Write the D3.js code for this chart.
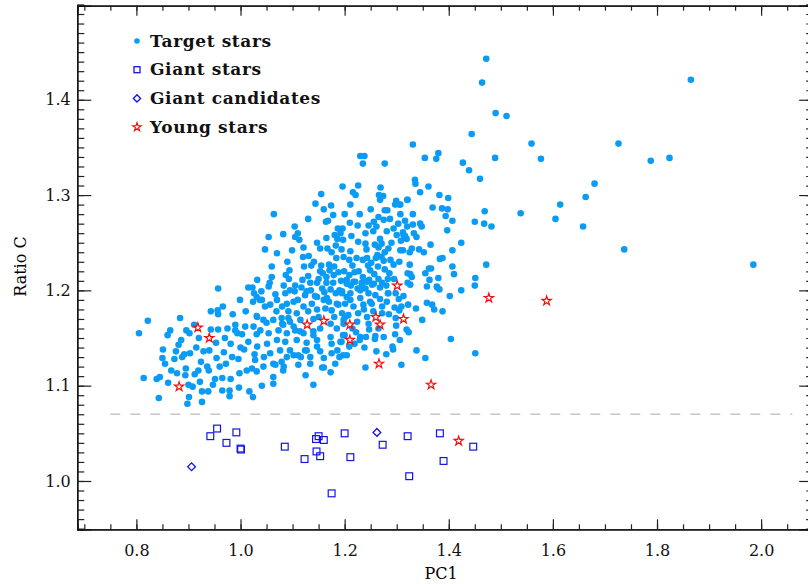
<!DOCTYPE html>
<html>
<head>
<meta charset="utf-8">
<script src="https://cdn.jsdelivr.net/npm/d3@7"></script>
<style>
  body { margin: 0; background: #fff; }
  svg { display: block; }
  .tick text { font-family: "DejaVu Serif", serif; font-size: 16px; fill: #111; }
  .axis path { stroke: #111; stroke-width: 1.3; }
  .axis line { stroke: #222; stroke-width: 1.2; }
</style>
</head>
<body>
<div id="chart"></div>
<script>
// --- data: [PC1, Ratio C]
var targetStars = [
  [1.472,1.443],[1.464,1.418],[1.865,1.421],[1.490,1.386],[1.511,1.383],[1.444,1.364],[1.331,1.353],[1.559,1.354],
  [1.726,1.354],[1.354,1.339],[1.380,1.344],[1.376,1.338],[1.489,1.339],[1.577,1.338],[1.788,1.336],[1.824,1.339],
  [1.427,1.334],[1.439,1.326],[1.460,1.317],[1.335,1.316],[1.336,1.312],[1.361,1.309],[1.345,1.303],[1.680,1.312],
  [1.663,1.298],[1.321,1.295],[1.307,1.290],[1.382,1.300],[1.399,1.297],[1.614,1.290],[1.369,1.287],[1.387,1.286],
  [1.398,1.285],[1.469,1.283],[1.331,1.280],[1.538,1.281],[1.307,1.280],[1.394,1.278],[1.605,1.275],[1.316,1.273],
  [1.407,1.273],[1.450,1.272],[1.468,1.270],[1.482,1.267],[1.658,1.267],[1.331,1.269],[1.345,1.270],[1.348,1.267],
  [1.397,1.263],[1.312,1.261],[1.316,1.257],[1.333,1.260],[1.338,1.256],[1.319,1.254],[1.365,1.248],[1.424,1.250],
  [1.307,1.242],[1.325,1.240],[1.343,1.243],[1.352,1.240],[1.407,1.242],[1.737,1.243],[1.388,1.234],[1.472,1.227],
  [1.985,1.227],[1.325,1.227],[1.362,1.223],[1.321,1.218],[1.355,1.218],[1.407,1.225],[1.410,1.217],[1.329,1.214],
  [1.380,1.213],[1.451,1.213],[1.363,1.211],
  [1.424,1.200],[1.358,1.187],[1.372,1.180],[1.337,1.181],[1.322,1.185],[1.309,1.183],[1.296,1.182],[1.349,1.169],
  [1.298,1.171],[1.299,1.163],[1.319,1.159],[1.323,1.156],[1.297,1.154],[1.306,1.148],[1.404,1.149],[1.258,1.149],
  [1.338,1.137],[1.293,1.138],[1.261,1.136],[1.280,1.133],[1.355,1.129],[1.451,1.134],[1.309,1.122],[1.240,1.119],
  [1.197,1.132],[1.272,1.208],[1.321,1.208],[1.377,1.204],[1.382,1.201],[1.304,1.191],[1.272,1.176],[1.259,1.152],
  [1.241,1.151],[1.222,1.156],[1.200,1.153],[1.229,1.148],[1.219,1.144],[1.194,1.146],[1.292,1.141],
  [1.204,1.207],[1.220,1.209],[1.233,1.206],[1.243,1.209],[1.256,1.207],[1.195,1.197],[1.211,1.197],[1.230,1.200],
  [1.246,1.197],[1.259,1.195],[1.268,1.191],[1.284,1.197],[1.201,1.186],[1.217,1.183],[1.236,1.185],[1.252,1.186],
  [1.195,1.176],[1.207,1.174],[1.226,1.176],[1.243,1.172],[1.198,1.165],[1.224,1.167],[1.246,1.165],[1.197,1.153],
  [1.230,1.151],
  [1.230,1.341],[1.238,1.341],[1.235,1.333],[1.277,1.333],[1.269,1.308],[1.226,1.310],[1.196,1.309],[1.155,1.301],
  [1.216,1.303],[1.221,1.300],[1.266,1.300],[1.274,1.299],[1.299,1.294],[1.305,1.290],[1.320,1.295],[1.144,1.291],
  [1.174,1.289],[1.211,1.290],[1.268,1.295],[1.277,1.284],[1.282,1.284],[1.297,1.290],[1.178,1.279],[1.229,1.280],
  [1.064,1.280],[1.104,1.267],[1.164,1.272],[1.168,1.273],[1.210,1.271],[1.256,1.272],[1.261,1.267],[1.196,1.265],
  [1.187,1.265],[1.181,1.258],[1.192,1.260],[1.186,1.254],[1.197,1.253],[1.213,1.257],[1.240,1.260],[1.226,1.251],
  [1.240,1.249],[1.165,1.255],[1.147,1.250],[1.105,1.256],[1.113,1.253],[1.121,1.245],[1.099,1.242],[1.054,1.256],
  [1.047,1.243],[1.082,1.259],[1.153,1.244],[1.167,1.244],[1.183,1.247],[1.194,1.243],[1.211,1.241],[1.242,1.243],
  [1.258,1.248],[1.268,1.254],[1.265,1.245],[1.271,1.249],[1.277,1.240],[1.284,1.244],[1.308,1.252],[1.313,1.258],
  [1.329,1.244],[1.312,1.242],[1.263,1.237],[1.271,1.235],[1.260,1.234],[1.275,1.231],[1.288,1.232],[1.294,1.227],
  [1.251,1.229],[1.243,1.234],[1.235,1.232],[1.223,1.234],[1.209,1.232],[1.198,1.235],[1.184,1.234],[1.170,1.227],
  [1.155,1.226],[1.141,1.230],[1.131,1.236],[1.120,1.235],[1.136,1.226],[1.122,1.225],[1.094,1.221],[1.087,1.216],
  [1.093,1.212],[1.060,1.214],[1.032,1.211],[1.023,1.203],[1.056,1.208],[1.153,1.220],[1.158,1.218],[1.165,1.214],
  [1.171,1.221],[1.179,1.216],[1.188,1.219],[1.199,1.220],[1.209,1.216],[1.219,1.219],[1.227,1.220],[1.235,1.214],
  [1.249,1.221],[1.257,1.217],[1.264,1.225],[1.277,1.222],[1.286,1.218],[1.283,1.212],[1.265,1.212],[1.247,1.211],
  [1.233,1.208],[1.217,1.209],[1.204,1.211],[1.193,1.210],[1.178,1.208],[1.165,1.208],[1.147,1.208],[1.134,1.208],
  [1.119,1.211],[1.105,1.205],[1.083,1.205],[1.067,1.196],[1.054,1.204],[1.040,1.199],[1.026,1.197],[1.037,1.190],
  [1.086,1.197],[1.095,1.200],[1.104,1.199],[1.117,1.203],[1.124,1.195],[1.135,1.200],[1.143,1.194],[1.157,1.202],
  [1.161,1.198],[1.173,1.201],[1.183,1.197],[1.195,1.199],[1.212,1.205],[1.225,1.202],[1.240,1.202],[1.253,1.206],
  [1.268,1.203],[1.283,1.197],[1.298,1.197],[1.313,1.194],[1.326,1.217],[1.326,1.206],[1.358,1.204],[1.366,1.223],
  [1.383,1.233],[1.378,1.203],[1.450,1.205],[1.402,1.194],[1.388,1.178],[1.368,1.185],[1.305,1.179],[1.275,1.151],
  [1.247,1.159],[1.238,1.140],[1.209,1.141],[1.192,1.146],[1.186,1.137],[1.175,1.144],[1.190,1.130],[1.160,1.129],
  [1.153,1.136],[1.134,1.130],[1.116,1.130],[1.102,1.132],[1.083,1.120],[1.044,1.120],[1.067,1.122],[1.160,1.119],
  [1.024,1.188],[1.047,1.183],[1.057,1.185],[1.069,1.178],[1.080,1.183],[1.089,1.186],[1.102,1.188],[1.092,1.178],
  [1.108,1.176],[1.121,1.183],[1.137,1.186],[1.147,1.180],[1.163,1.181],[1.175,1.179],[1.188,1.185],[1.211,1.190],
  [1.237,1.180],[1.249,1.188],[1.272,1.183],[1.281,1.188],[1.115,1.169],[1.095,1.167],[1.080,1.165],[1.063,1.169],
  [1.044,1.169],[1.032,1.172],[1.025,1.162],[1.038,1.158],[1.054,1.155],[1.073,1.158],[1.089,1.155],[1.105,1.158],
  [1.121,1.155],[1.140,1.157],[1.153,1.160],[1.173,1.165],[1.185,1.160],[1.198,1.169],[1.173,1.151],[1.147,1.148],
  [1.127,1.145],[1.108,1.148],[1.086,1.146],[1.070,1.148],[1.051,1.144],[1.032,1.141],[1.057,1.134],[1.076,1.137],
  [1.095,1.137],[1.028,1.127],[1.124,1.137],[1.175,1.134],
  [1.070,1.239],[1.015,1.203],[0.957,1.202],[0.999,1.190],[1.041,1.190],[0.966,1.183],[0.943,1.178],[0.956,1.179],
  [0.957,1.175],[0.884,1.171],[0.822,1.168],[0.805,1.155],[0.865,1.158],[0.860,1.153],[0.896,1.158],[0.902,1.155],
  [0.911,1.164],[0.943,1.159],[0.957,1.159],[0.990,1.164],[1.009,1.162],[1.031,1.173],[0.990,1.158],[0.994,1.155],
  [1.003,1.154],[1.031,1.154],[0.886,1.148],[0.881,1.143],[0.851,1.138],[0.876,1.136],[0.892,1.133],[0.888,1.130],
  [0.903,1.134],[0.915,1.140],[0.929,1.136],[0.940,1.137],[0.953,1.145],[0.970,1.150],[0.981,1.144],[0.968,1.135],
  [0.954,1.129],[0.972,1.123],[0.960,1.120],[0.984,1.130],[0.996,1.128],[1.007,1.138],[1.015,1.146],[1.027,1.133],
  [0.850,1.129],[0.855,1.123],[0.873,1.128],[0.924,1.125],[0.936,1.120],[0.939,1.116],[0.919,1.116],[0.895,1.118],
  [0.867,1.116],[0.878,1.113],[0.894,1.111],[0.912,1.112],[0.951,1.107],[0.965,1.108],[0.981,1.107],[0.998,1.113],
  [1.012,1.116],[1.022,1.118],[1.031,1.115],[1.063,1.109],[1.082,1.116],[0.814,1.108],[0.839,1.107],[0.845,1.109],
  [0.861,1.103],[0.922,1.104],[0.900,1.101],[0.908,1.099],[0.926,1.094],[0.938,1.094],[0.947,1.101],[0.965,1.095],
  [0.979,1.095],[0.997,1.098],[1.017,1.094],[1.024,1.088],[0.979,1.089],[1.041,1.100],[1.063,1.102],[0.843,1.087],
  [0.901,1.088],[0.898,1.081],[0.926,1.083],[1.140,1.101],[1.157,1.119],[1.173,1.114],[1.125,1.111],[1.111,1.122],
  [1.031,1.193],[1.130,1.178],[1.092,1.171],[1.079,1.171],[1.050,1.166],[1.082,1.164],[1.102,1.162],[1.114,1.157],
  [1.140,1.153],[1.147,1.141],[1.127,1.137],[1.111,1.132],[1.089,1.130],[1.079,1.125],[1.063,1.123],[1.134,1.123],
  [1.182,1.123],[1.204,1.132],[1.201,1.172],[1.166,1.192],[1.147,1.193],[1.127,1.199],[1.204,1.193],[1.185,1.186],
  // extra points in the packed core
  [1.265,1.277],[1.275,1.274],[1.287,1.275],[1.303,1.270],[1.294,1.265],[1.246,1.268],[1.281,1.262],[1.300,1.258],
  [1.320,1.267],[1.180,1.225],[1.215,1.226],[1.245,1.226],[1.150,1.212],[1.190,1.200],[1.230,1.192],[1.170,1.188],
  [1.255,1.178],[1.215,1.160],[1.180,1.172],[1.160,1.190],[1.140,1.170],[1.265,1.160],[1.285,1.175],[1.280,1.205],
  [1.295,1.212],[1.305,1.230],[1.290,1.250],[1.255,1.262],[1.225,1.268],[1.200,1.280],[1.250,1.285],[1.175,1.240],
  [1.130,1.215],[1.110,1.190],[1.150,1.172],[1.070,1.190],[1.010,1.178],[0.985,1.175],[0.975,1.160],[0.920,1.150],
  [1.000,1.140],[1.045,1.130],[1.110,1.260],[1.130,1.275],[1.160,1.285],[1.090,1.230],[1.060,1.225]
];

var giantStars = [
  [0.955,1.055],[0.942,1.047],[0.992,1.051],[0.973,1.040],[1.000,1.034],[1.001,1.033],[1.085,1.036],[1.123,1.023],
  [1.150,1.047],[1.145,1.044],[1.160,1.043],[1.146,1.031],[1.153,1.026],[1.175,0.987],[1.200,1.050],[1.211,1.025],
  [1.273,1.038],[1.321,1.047],[1.324,1.005],[1.383,1.050],[1.390,1.021],[1.447,1.036]
];

var giantCandidates = [[0.906,1.015],[1.262,1.051]];

var youngStars = [
  [0.882,1.099],[0.918,1.161],[0.940,1.150],[1.128,1.164],[1.160,1.168],[1.210,1.164],[1.210,1.148],[1.260,1.172],
  [1.268,1.164],[1.301,1.205],[1.313,1.170],[1.266,1.123],[1.366,1.101],[1.477,1.192],[1.588,1.189],[1.419,1.042]
];

var xTicks = [0.8, 1.0, 1.2, 1.4, 1.6, 1.8, 2.0];
var yTicks = [1.0, 1.1, 1.2, 1.3, 1.4];
var cutLevel = 1.07;   // dashed separation line
var legendLabels = ["Target stars", "Giant stars", "Giant candidates", "Young stars"];

// --- layout
var width = 808, height = 584;
var plotL = 77.3, plotR = 813.2, plotT = 5.7, plotB = 529.3;
var blue = "#0a9cf5", darkBlue = "#1414e6", red = "#f01010";

var svg = d3.select("#chart").append("svg")
  .attr("width", width)
  .attr("height", height);

var x = d3.scaleLinear().domain([0.6865, 2.1]).range([plotL, plotR]);
var y = d3.scaleLinear().domain([0.9493, 1.4987]).range([plotB, plotT]);

var xMinor = d3.range(0.70, 2.101, 0.05).map(function(d) { return +d.toFixed(2); });
var yMinor = d3.range(0.95, 1.501, 0.01).map(function(d) { return +d.toFixed(2); });

// axes: IDL style, ticks pointing inward on all four sides
function addAxis(axis, tx, ty) {
  return svg.append("g").attr("class", "axis").attr("transform", "translate(" + tx + "," + ty + ")").call(axis);
}
addAxis(d3.axisBottom(x).tickValues(xMinor).tickSize(-5).tickFormat(""), 0, plotB);
addAxis(d3.axisBottom(x).tickValues(xTicks).tickSize(-10).tickPadding(15).tickFormat(d3.format(".1f")), 0, plotB);
addAxis(d3.axisTop(x).tickValues(xMinor).tickSize(-5).tickFormat(""), 0, plotT);
addAxis(d3.axisTop(x).tickValues(xTicks).tickSize(-10).tickFormat(""), 0, plotT);
addAxis(d3.axisLeft(y).tickValues(yMinor).tickSize(-7).tickFormat(""), plotL, 0);
addAxis(d3.axisLeft(y).tickValues(yTicks).tickSize(-14).tickPadding(6.5).tickFormat(d3.format(".1f")), plotL, 0);
addAxis(d3.axisRight(y).tickValues(yMinor).tickSize(-7).tickFormat(""), plotR, 0);
addAxis(d3.axisRight(y).tickValues(yTicks).tickSize(-14).tickFormat(""), plotR, 0);

// axis titles
svg.append("text")
  .attr("x", 441).attr("y", 579)
  .attr("text-anchor", "middle")
  .style("font-family", "DejaVu Serif, serif").style("font-size", "16px")
  .text("PC1");
svg.append("text")
  .attr("transform", "translate(26," + y(1.225) + ") rotate(-90)")
  .attr("text-anchor", "middle")
  .style("font-family", "DejaVu Serif, serif").style("font-size", "16px")
  .text("Ratio C");

// dashed line separating giants
svg.append("line")
  .attr("x1", x(0.75)).attr("x2", x(2.06))
  .attr("y1", y(cutLevel)).attr("y2", y(cutLevel))
  .attr("stroke", "#c4c4c4").attr("stroke-width", 1.4)
  .attr("stroke-dasharray", "10,10");

// target stars
svg.append("g").selectAll("circle")
  .data(targetStars)
  .enter().append("circle")
  .attr("cx", function(d) { return x(d[0]); })
  .attr("cy", function(d) { return y(d[1]); })
  .attr("r", 3.3)
  .attr("fill", blue);

// giant stars (open squares)
svg.append("g").selectAll("rect")
  .data(giantStars)
  .enter().append("rect")
  .attr("x", function(d) { return x(d[0]) - 3.4; })
  .attr("y", function(d) { return y(d[1]) - 3.4; })
  .attr("width", 6.8).attr("height", 6.8)
  .attr("fill", "none").attr("stroke", darkBlue).attr("stroke-width", 1.2);

// giant candidates (open diamonds)
var diamond = d3.symbol().type(d3.symbolSquare).size(30);
svg.append("g").selectAll("path")
  .data(giantCandidates)
  .enter().append("path")
  .attr("d", diamond)
  .attr("transform", function(d) { return "translate(" + x(d[0]) + "," + y(d[1]) + ") rotate(45)"; })
  .attr("fill", "none").attr("stroke", darkBlue).attr("stroke-width", 1.3);

// young stars (open stars)
var star = d3.symbol().type(d3.symbolStar).size(26);
svg.append("g").selectAll("path")
  .data(youngStars)
  .enter().append("path")
  .attr("d", star)
  .attr("transform", function(d) { return "translate(" + x(d[0]) + "," + y(d[1]) + ")"; })
  .attr("fill", "none").attr("stroke", red).attr("stroke-width", 1.2);

// legend
var legend = svg.append("g").attr("transform", "translate(137,41)");
var rowGap = 28.7;
legend.append("circle").attr("cx", 0).attr("cy", 0).attr("r", 2.8).attr("fill", blue);
legend.append("rect").attr("x", -3).attr("y", rowGap - 3).attr("width", 6).attr("height", 6)
  .attr("fill", "none").attr("stroke", darkBlue).attr("stroke-width", 1.3);
legend.append("path").attr("d", d3.symbol().type(d3.symbolSquare).size(26))
  .attr("transform", "translate(0," + 2 * rowGap + ") rotate(45)")
  .attr("fill", "none").attr("stroke", darkBlue).attr("stroke-width", 1.3);
legend.append("path").attr("d", d3.symbol().type(d3.symbolStar).size(22))
  .attr("transform", "translate(0," + 3 * rowGap + ")")
  .attr("fill", "none").attr("stroke", red).attr("stroke-width", 1.2);
legend.selectAll("text")
  .data(legendLabels)
  .enter().append("text")
  .attr("x", 13)
  .attr("y", function(d, i) { return i * rowGap + 5.5; })
  .style("font-family", "DejaVu Serif, serif")
  .style("font-size", "17px")
  .style("font-weight", "bold")
  .style("letter-spacing", "0.6px")
  .attr("fill", "#111")
  .text(function(d) { return d; });
</script>
</body>
</html>
